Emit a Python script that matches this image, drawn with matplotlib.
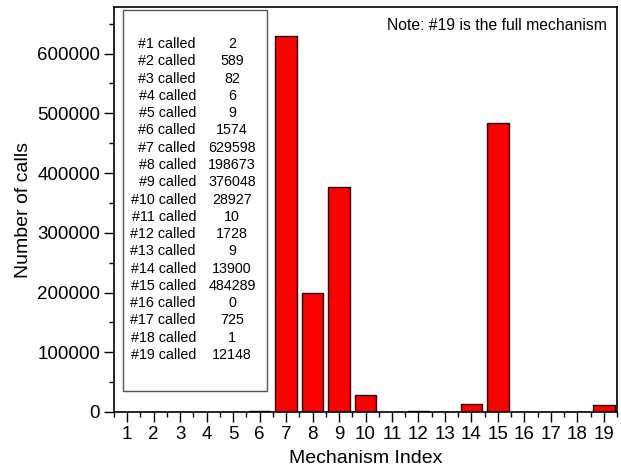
import numpy as np
import matplotlib.pyplot as plt
from matplotlib.ticker import MultipleLocator

plt.rcParams['font.family'] = ['Liberation Sans', 'DejaVu Sans']

# datos
indices = list(range(1, 20))
calls = [2, 589, 82, 6, 9, 1574, 629598, 198673, 376048, 28927,
         10, 1728, 9, 13900, 484289, 0, 725, 1, 12148]

fig = plt.figure(figsize=(6.21, 4.71), dpi=100)
ax = fig.add_axes([114/621, 1 - 412/471, 503/621, 405/471])

ax.bar(indices, calls, width=0.82, color='#ff0000', edgecolor='#200000', linewidth=1.0)

ax.set_xlim(0.5, 19.5)
ax.set_ylim(0, 678000)
ax.set_xticks(indices)
ax.xaxis.set_minor_locator(MultipleLocator(1, offset=0.5))
ax.yaxis.set_major_locator(MultipleLocator(100000))
ax.yaxis.set_minor_locator(MultipleLocator(50000))
ax.tick_params(which='major', direction='out', length=7, width=1, labelsize=13.5, pad=3)
ax.tick_params(which='minor', direction='out', length=3.5, width=1)
for s in ax.spines.values():
    s.set_linewidth(1.2)

ax.set_xlabel('Mechanism Index', fontsize=14, labelpad=5)
ax.set_ylabel('Number of calls', fontsize=14, labelpad=4)

# caja de texto
box = plt.Rectangle((123/621, 1 - 391/471), 144/621, 381/471, transform=fig.transFigure,
                    fill=False, edgecolor='#555555', linewidth=1.0)
fig.add_artist(box)
for i, (n, c) in enumerate(zip(indices, calls)):
    y = 1 - (44 + i*17.28)/471
    fig.text(196/621, y, '#%d called' % n, ha='right', va='center', fontsize=10.3)
    fig.text(232/621, y, '%d' % c, ha='center', va='center', fontsize=10.3)

ax.text(0.98, 0.972, 'Note: #19 is the full mechanism', transform=ax.transAxes,
        ha='right', va='top', fontsize=11.3)

fig.savefig('out.png', dpi=100)
